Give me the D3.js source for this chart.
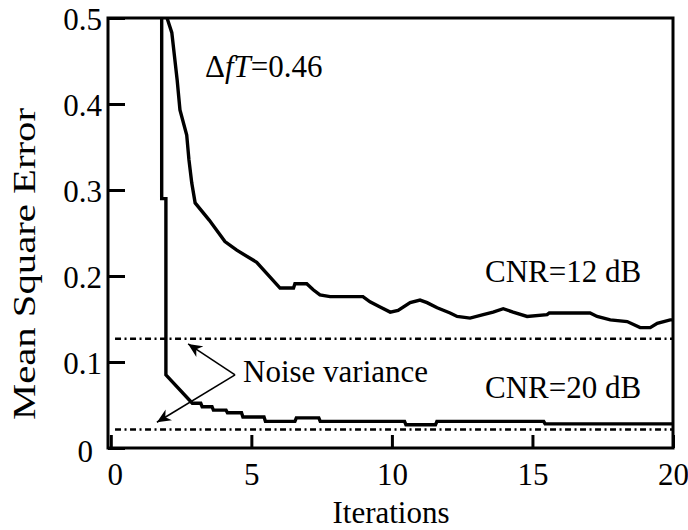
<!DOCTYPE html>
<html lang="en">
  <head>
    <meta charset="utf-8">
    <title>Mean Square Error vs Iterations</title>
    <script src="https://d3js.org/d3.v7.js"></script>
    <style>
      body { margin: 0; background: #fff; }
      svg text { font-family: "Liberation Serif", "Times New Roman", Tinos, Times, "DejaVu Serif", serif; font-size: 31px; fill: #000; }
    </style>
  </head>
  <body>
    <script type="text/javascript">
      // chart values
      var xTicks = [0, 5, 10, 15, 20];
      var yTicks = [0, 0.1, 0.2, 0.3, 0.4, 0.5];

      // CNR = 12 dB curve (iteration, MSE)
      var cnr12It  = [1.93, 2.0, 2.17, 2.36, 2.46, 2.70, 2.78, 2.88, 3.0, 3.5, 4.06, 4.48, 5.19, 6.02, 6.5, 6.55, 6.97, 7.2, 7.44, 7.8, 8.97, 9.22, 9.58, 9.94, 10.22, 10.65, 11.0, 11.25, 11.61, 12.07, 12.32, 12.78, 13.25, 13.6, 13.96, 14.31, 14.81, 15.52, 15.6, 17.05, 17.3, 17.77, 18.37, 18.83, 19.19, 19.44, 19.9, 20];
      var cnr12Mse = [0.52, 0.50, 0.483, 0.428, 0.393, 0.364, 0.335, 0.308, 0.285, 0.265, 0.240, 0.230, 0.216, 0.186, 0.186, 0.191, 0.191, 0.184, 0.178, 0.176, 0.176, 0.170, 0.164, 0.158, 0.160, 0.169, 0.172, 0.169, 0.163, 0.157, 0.153, 0.151, 0.155, 0.158, 0.162, 0.158, 0.153, 0.155, 0.157, 0.157, 0.153, 0.149, 0.147, 0.140, 0.140, 0.145, 0.149, 0.149];

      // CNR = 20 dB curve
      var cnr20It  = [1.81, 1.81, 1.96, 1.96, 2.9, 3.2, 3.25, 3.6, 3.65, 4.1, 4.15, 4.65, 4.7, 5.45, 5.5, 6.55, 6.6, 7.4, 7.45, 10.45, 10.5, 11.55, 11.6, 15.4, 15.45, 20];
      var cnr20Mse = [0.52, 0.29, 0.29, 0.085, 0.052, 0.052, 0.048, 0.048, 0.044, 0.044, 0.041, 0.041, 0.036, 0.036, 0.031, 0.031, 0.035, 0.035, 0.031, 0.031, 0.027, 0.027, 0.031, 0.031, 0.028, 0.028];

      // noise variance levels
      var noiseLevels = [0.127, 0.0215];

      // arrow: vertex and the two tips (iteration, MSE)
      var arrowFrom = [4.42, 0.085];
      var arrowTips = [[2.75, 0.121], [1.64, 0.030]];

      var w = 688, h = 530;
      var margin = {top: 18, right: 15, bottom: 82, left: 108};

      var x = d3.scaleLinear().domain([-0.1, 20]).range([margin.left, w - margin.right]);
      var y = d3.scaleLinear().domain([0, 0.5]).range([h - margin.bottom, margin.top]);

      var svg = d3.select("body").append("svg")
          .attr("width", w)
          .attr("height", h);

      svg.append("defs").append("clipPath").attr("id", "plotclip")
        .append("rect")
          .attr("x", x.range()[0]).attr("y", y.range()[1])
          .attr("width", x.range()[1] - x.range()[0])
          .attr("height", y.range()[0] - y.range()[1]);

      svg.select("defs").append("marker")
          .attr("id", "head")
          .attr("viewBox", "0 0 10 10")
          .attr("refX", 10).attr("refY", 5)
          .attr("markerWidth", 14).attr("markerHeight", 14)
          .attr("markerUnits", "userSpaceOnUse")
          .attr("orient", "auto")
        .append("path")
          .attr("d", "M0,0.5 L10,5 L0,9.5 L3,5 Z")
          .attr("fill", "#000");

      // axes (ticks pointing inward)
      var xAxis = d3.axisBottom(x).tickValues(xTicks).tickSize(-13).tickPadding(15)
          .tickFormat(d3.format("d"));
      var yAxis = d3.axisLeft(y).tickValues(yTicks).tickSize(-17).tickPadding(6)
          .tickFormat(function(d) { return d === 0 ? "0" : d3.format(".1f")(d); });

      var gx = svg.append("g")
          .attr("transform", "translate(0," + y(0) + ")")
          .call(xAxis);
      var gy = svg.append("g")
          .attr("transform", "translate(" + x.range()[0] + ",0)")
          .call(yAxis);

      [gx, gy].forEach(function(g) {
        g.attr("font-family", null).attr("font-size", null);
        g.select(".domain").remove();
        g.selectAll(".tick line").attr("stroke", "#000").attr("stroke-width", 3);
      });
      gx.selectAll(".tick text").attr("dy", "0.71em");
      gx.selectAll(".tick").filter(function(d) { return d === 0; }).select("text").attr("dx", 4);
      gy.selectAll(".tick text").attr("dy", "0.36em");
      gy.selectAll(".tick").filter(function(d) { return d === 0; }).select("text").attr("dx", -9).attr("dy", "0.42em");

      // frame
      svg.append("rect")
          .attr("x", x.range()[0]).attr("y", y.range()[1])
          .attr("width", x.range()[1] - x.range()[0])
          .attr("height", y.range()[0] - y.range()[1])
          .attr("fill", "none")
          .attr("stroke", "#000")
          .attr("stroke-width", 3);

      var plot = svg.append("g").attr("clip-path", "url(#plotclip)");

      // noise variance lines
      plot.selectAll("line.noise")
        .data(noiseLevels)
        .enter().append("line")
          .attr("class", "noise")
          .attr("x1", x(0.15)).attr("x2", x(20))
          .attr("y1", function(d) { return y(d); })
          .attr("y2", function(d) { return y(d); })
          .attr("stroke", "#000")
          .attr("stroke-width", 2.5)
          .attr("stroke-dasharray", "6,3.5,2,3.5");

      var line = d3.line()
          .x(function(d) { return x(d[0]); })
          .y(function(d) { return y(d[1]); });

      var curves = [
        d3.zip(cnr12It, cnr12Mse),
        d3.zip(cnr20It, cnr20Mse)
      ];

      plot.selectAll("path.curve")
        .data(curves)
        .enter().append("path")
          .attr("class", "curve")
          .attr("d", line)
          .attr("fill", "none")
          .attr("stroke", "#000")
          .attr("stroke-width", 3.4)
          .attr("stroke-linejoin", "miter");

      // arrows to noise lines
      svg.selectAll("line.arrow")
        .data(arrowTips)
        .enter().append("line")
          .attr("class", "arrow")
          .attr("x1", x(arrowFrom[0])).attr("y1", y(arrowFrom[1]))
          .attr("x2", function(d) { return x(d[0]); })
          .attr("y2", function(d) { return y(d[1]); })
          .attr("stroke", "#000")
          .attr("stroke-width", 1.6)
          .attr("marker-end", "url(#head)");

      // labels
      var dft = svg.append("text").attr("x", 205).attr("y", 77);
      dft.append("tspan").text("\u0394");
      dft.append("tspan").attr("font-style", "italic").text("fT");
      dft.append("tspan").text("=0.46");

      svg.append("text").attr("x", 485).attr("y", 282).text("CNR=12 dB");
      svg.append("text").attr("x", 485).attr("y", 398).text("CNR=20 dB");
      svg.append("text").attr("x", 243).attr("y", 382).text("Noise variance");

      svg.append("text")
          .attr("text-anchor", "middle")
          .attr("x", 391).attr("y", 523)
          .text("Iterations");

      svg.append("text")
          .attr("text-anchor", "middle")
          .attr("textLength", 312)
          .attr("lengthAdjust", "spacingAndGlyphs")
          .attr("transform", "translate(35,264) rotate(-90)")
          .text("Mean Square Error");
    </script>
  </body>
</html>
